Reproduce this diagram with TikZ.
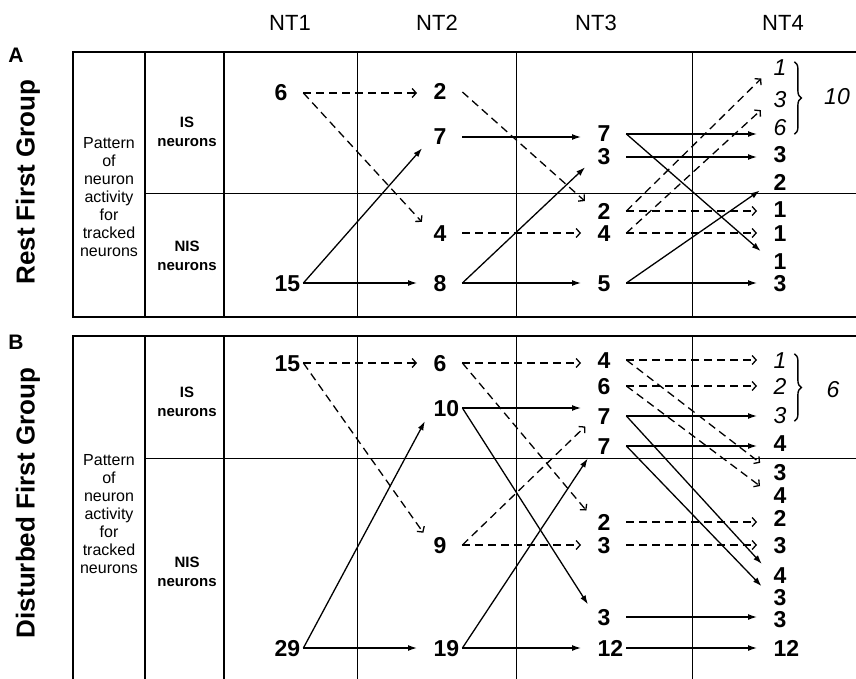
\documentclass[tikz,border=0pt]{standalone}
\usepackage{fontspec}
\setmainfont{Liberation Sans}
\usetikzlibrary{arrows.meta,decorations.pathreplacing}
\tikzset{
  thickrule/.style={line width=2.6pt},
  thinrule/.style={line width=1pt},
  head/.style={font=\fontsize{22}{22}\selectfont, anchor=base},
  panel/.style={font=\bfseries\fontsize{21}{21}\selectfont},
  grp/.style={font=\bfseries\fontsize{26}{26}\selectfont, rotate=90},
  pat/.style={font=\fontsize{16}{18}\selectfont, align=center},
  kind/.style={font=\bfseries\fontsize{15}{19}\selectfont, align=center},
  num/.style={font=\bfseries\fontsize{23}{23}\selectfont, anchor=west,
    text width=27pt, align=left, inner xsep=1.5pt, inner ysep=0pt,
    text height=16pt, text depth=0pt},
  inum/.style={num, font=\itshape\fontsize{23}{23}\selectfont},
  tot/.style={font=\itshape\fontsize{23}{23}\selectfont},
  sol/.style={line width=1.3pt, -{Latex[length=9pt,width=6pt]}, shorten >=15pt},
  dsh/.style={line width=1.3pt, dash pattern=on 8pt off 5pt,
    -{Straight Barb[length=4pt,width=9pt]}, shorten >=15pt},
  brc/.style={line width=1.4pt, decorate, decoration={brace, amplitude=7pt}}
}
\begin{document}
\begin{tikzpicture}[x=1pt,y=-1pt]
\useasboundingbox (0,0) rectangle (856,679);

% column heads
\node[head] (nt1) at (290,31) {NT1};
\node[head] (nt2) at (437,31) {NT2};
\node[head] (nt3) at (596,31) {NT3};
\node[head] (nt4) at (783,31) {NT4};

%%%% panel A
\draw[thickrule] (856,52) -- (73,52) -- (73,317) -- (856,317);
\draw[thickrule] (145,52) -- (145,317) (224,52) -- (224,317);
\draw[thinrule] (145,194) -- (856,194);
\foreach \x in {357,516,692} \draw[thinrule] (\x,52) -- (\x,317);

\node[panel] (pa) at (16,55) {A};
\node[grp] (ga) at (28,182) {Rest First Group};
\node[pat] (pata) at (109,197) {Pattern\\of\\neuron\\activity\\for\\tracked\\neurons};
\node[kind] (isa) at (187,132) {IS\\neurons};
\node[kind] (nisa) at (187,256) {NIS\\neurons};

\node[num] (a1a) at (273,93) {6};
\node[num] (a1b) at (273,283) {15};
\node[num] (a2a) at (432,92) {2};
\node[num] (a2b) at (432,137) {7};
\node[num] (a2c) at (432,233) {4};
\node[num] (a2d) at (432,283) {8};
\node[num] (a3a) at (596,134) {7};
\node[num] (a3b) at (596,157) {3};
\node[num] (a3c) at (596,211) {2};
\node[num] (a3d) at (596,233) {4};
\node[num] (a3e) at (596,283) {5};
\node[inum] (a4a) at (772,68) {1};
\node[inum] (a4b) at (772,100) {3};
\node[inum] (a4c) at (772,128) {6};
\node[num] (a4d) at (772,155) {3};
\node[num] (a4e) at (772,182) {2};
\node[num] (a4f) at (772,210) {1};
\node[num] (a4g) at (772,233) {1};
\node[num] (a4h) at (772,261) {1};
\node[num] (a4i) at (772,283) {3};

\draw[brc] ([xshift=-8pt,yshift=-2pt]a4a.north east) -- ([xshift=-8pt,yshift=2pt]a4c.south east);
\node[tot] (ta) at (837,97) {10};

\draw[dsh] (a1a.east) -- (a1a.east -| a2a.west);
\draw[dsh] (a1a.east) -- (a2c.west);
\draw[sol] (a1b.east) -- (a2b.west);
\draw[sol] (a1b.east) -- (a1b.east -| a2d.west);

\draw[dsh] (a2a.east) -- (a3c.west);
\draw[sol] (a2b.east) -- (a2b.east -| a3a.west);
\draw[dsh] (a2c.east) -- (a2c.east -| a3d.west);
\draw[sol] (a2d.east) -- (a2d.east -| a3e.west);
\draw[sol] (a2d.east) -- (a3b.west);

\draw[sol] (a3a.east) -- (a3a.east -| a4c.west);
\draw[sol] (a3a.east) -- (a4h.west);
\draw[sol] (a3b.east) -- (a3b.east -| a4d.west);
\draw[dsh] (a3c.east) -- (a3c.east -| a4f.west);
\draw[dsh] (a3c.east) -- (a4a.west);
\draw[dsh] (a3d.east) -- (a3d.east -| a4g.west);
\draw[dsh] (a3d.east) -- (a4b.west);
\draw[sol] (a3e.east) -- (a3e.east -| a4i.west);
\draw[sol] (a3e.east) -- (a4e.west);

%%%% panel B
\draw[thickrule] (856,336) -- (73,336) -- (73,679);
\draw[thickrule] (145,336) -- (145,679) (224,336) -- (224,679);
\draw[thinrule] (145,458) -- (856,458);
\foreach \x in {357,516,692} \draw[thinrule] (\x,336) -- (\x,679);

\node[panel] (pb) at (16,342) {B};
\node[grp] (gb) at (28,503) {Disturbed First Group};
\node[pat] (patb) at (109,514) {Pattern\\of\\neuron\\activity\\for\\tracked\\neurons};
\node[kind] (isb) at (187,402) {IS\\neurons};
\node[kind] (nisb) at (187,572) {NIS\\neurons};

\node[num] (b1a) at (273,363) {15};
\node[num] (b1b) at (273,648) {29};
\node[num] (b2a) at (432,363) {6};
\node[num] (b2b) at (432,408) {10};
\node[num] (b2c) at (432,545) {9};
\node[num] (b2d) at (432,648) {19};
\node[num] (b3a) at (596,360) {4};
\node[num] (b3b) at (596,386) {6};
\node[num] (b3c) at (596,416) {7};
\node[num] (b3d) at (596,446) {7};
\node[num] (b3e) at (596,522) {2};
\node[num] (b3f) at (596,545) {3};
\node[num] (b3g) at (596,617) {3};
\node[num] (b3h) at (596,648) {12};
\node[inum] (b4a) at (772,360) {1};
\node[inum] (b4b) at (772,386) {2};
\node[inum] (b4c) at (772,415) {3};
\node[num] (b4d) at (772,443) {4};
\node[num] (b4e) at (772,472) {3};
\node[num] (b4f) at (772,495) {4};
\node[num] (b4g) at (772,518) {2};
\node[num] (b4h) at (772,545) {3};
\node[num] (b4i) at (772,575) {4};
\node[num] (b4j) at (772,597) {3};
\node[num] (b4k) at (772,619) {3};
\node[num] (b4l) at (772,648) {12};

\draw[brc] ([xshift=-8pt,yshift=-2pt]b4a.north east) -- ([xshift=-8pt,yshift=2pt]b4c.south east);
\node[tot] (tb) at (833,390) {6};

\draw[dsh] (b1a.east) -- (b1a.east -| b2a.west);
\draw[dsh] (b1a.east) -- (b2c.west);
\draw[sol] (b1b.east) -- (b2b.west);
\draw[sol] (b1b.east) -- (b1b.east -| b2d.west);

\draw[dsh] (b2a.east) -- (b2a.east -| b3a.west);
\draw[dsh] (b2a.east) -- (b3e.west);
\draw[sol] (b2b.east) -- (b2b.east -| b3c.west);
\draw[sol] (b2b.east) -- (b3g.west);
\draw[dsh] (b2c.east) -- (b2c.east -| b3f.west);
\draw[dsh] (b2c.east) -- (b3c.west);
\draw[sol] (b2d.east) -- (b2d.east -| b3h.west);
\draw[sol] (b2d.east) -- (b3d.west);

\draw[dsh] (b3a.east) -- (b3a.east -| b4a.west);
\draw[dsh] (b3a.east) -- (b4e.west);
\draw[dsh] (b3b.east) -- (b3b.east -| b4b.west);
\draw[dsh] (b3b.east) -- (b4f.west);
\draw[sol] (b3c.east) -- (b3c.east -| b4c.west);
\draw[sol] (b3c.east) -- (b4i.west);
\draw[sol] (b3d.east) -- (b3d.east -| b4d.west);
\draw[sol] (b3d.east) -- (b4j.west);
\draw[dsh] (b3e.east) -- (b3e.east -| b4g.west);
\draw[dsh] (b3f.east) -- (b3f.east -| b4h.west);
\draw[sol] (b3g.east) -- (b3g.east -| b4k.west);
\draw[sol] (b3h.east) -- (b3h.east -| b4l.west);
\end{tikzpicture}
\end{document}
